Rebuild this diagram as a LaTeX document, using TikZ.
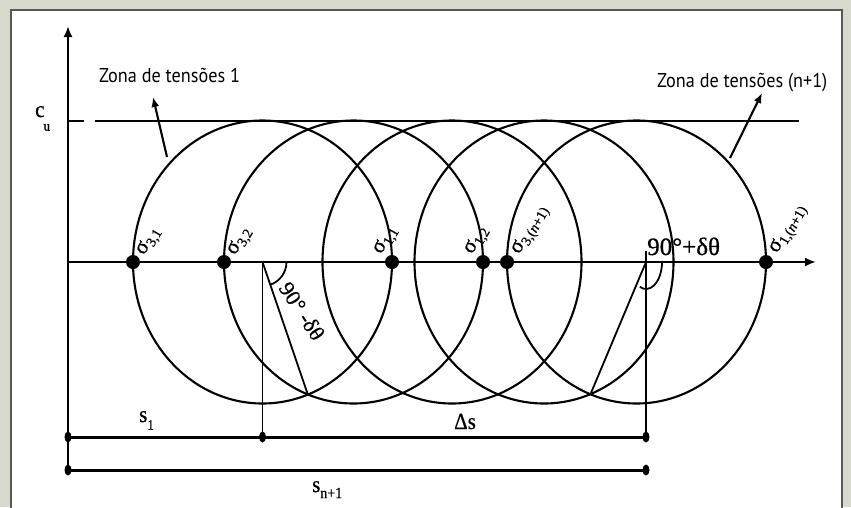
\documentclass[tikz,border=0pt]{standalone}
\usepackage{fontspec}
\setmainfont{Liberation Serif}[FakeBold=0.7]
\newfontfamily\zonafont{PT Sans}
\usetikzlibrary{arrows.meta,shapes.geometric,calc}
\definecolor{bggray}{RGB}{216,217,205}
\definecolor{framegray}{RGB}{88,88,88}
\newcommand{\sgm}[1]{{\fontsize{22}{22}\selectfont σ}\raisebox{-4pt}{\fontsize{14}{14}\selectfont #1}}
\begin{document}
\begin{tikzpicture}[x=1pt,y=-1pt,
  ln/.style={line width=2.1pt},
  thinln/.style={line width=1.8pt},
  circ/.style={line width=2.1pt},
  dimln/.style={line width=3pt},
  bigdot/.style={circle, fill=black, inner sep=0pt, minimum size=14pt},
  smalldot/.style={ellipse, fill=black, inner sep=0pt, minimum width=7pt, minimum height=11pt},
  axarrow/.style={-{Latex[length=11pt,width=9pt]}},
  zarrow/.style={-{Latex[length=10pt,width=8pt]}},
  zona/.style={font=\zonafont\fontsize{18.2}{20}\selectfont, inner sep=0pt, anchor=base west, yscale=1.1},
  serif/.style={inner sep=0pt, anchor=base west},
  siglab/.style={inner sep=0pt, anchor=base west, rotate=60},
]
\useasboundingbox (0,0) rectangle (851,507);
\fill[bggray] (0,0) rectangle (851,507);
\fill[white] (11,9.5) rectangle (842,507);
\draw[framegray, line width=2pt] (11,512) -- (11,9.5) -- (842,9.5) -- (842,512);

% coordinates
\coordinate (Ybot) at (68,470);
\coordinate (Ytop) at (68,26);
\coordinate (O) at (68,262);
\coordinate (Xend) at (816,262);
\coordinate (cuA) at (68,121);
\coordinate (cuB) at (84,121);
\coordinate (cuC) at (95,121);
\coordinate (cuD) at (799,121);
\foreach \n/\cx in {1/262.5, 2/353.5, 3/452, 4/544, 5/636.5}
  \coordinate (C\n) at (\cx,262);
\coordinate (P12) at (308,395);
\coordinate (Vr) at (646,262);
\coordinate (VrTop) at (646,251);
\coordinate (P45) at (590.3,394.6);
\coordinate (D1a) at (68,437);
\coordinate (D1b) at (262.5,437);
\coordinate (D1c) at (646,437);
\coordinate (D2a) at (68,470);
\coordinate (D2b) at (646,470);
\coordinate (za1) at (167,157);
\coordinate (za2) at (153,97);
\coordinate (zb1) at (730,158);
\coordinate (zb2) at (762,93);

% axes
\draw[ln, axarrow] (Ybot) -- (Ytop);
\draw[ln, axarrow] (O) -- (Xend);
\draw[ln] (cuA) -- (cuB);
\draw[ln] (cuC) -- (cuD);

% circles
\foreach \n in {1,...,5}
  \draw[circ] (C\n) ellipse [x radius=129.5pt, y radius=141.5pt];

% construction lines
\draw[thinln] (C1) -- (P12);
\draw[thinln] (C1) -- (D1b);
\draw[thinln] (VrTop) -- (D1c);
\draw[thinln] (Vr) -- (P45);
\draw[thinln] ([shift={(24pt,0pt)}]C1) arc[start angle=0, end angle=-71.3, radius=24pt];
\draw[thinln] ([shift={(16pt,0pt)}]Vr) arc[start angle=0, end angle=-112.8, x radius=16pt, y radius=27pt];

% dimension lines
\draw[dimln] (D1a) -- (D1c);
\draw[dimln] (D2a) -- (D2b);
\node[smalldot] (d1) at (D1a) {};
\node[smalldot] (d2) at (D1b) {};
\node[smalldot] (d3) at (D1c) {};
\node[smalldot] (d4) at (D2a) {};
\node[smalldot] (d5) at (D2b) {};

% stress points
\node[bigdot] (s31) at (133,262) {};
\node[bigdot] (s32) at (224,262) {};
\node[bigdot] (s11) at (392,262) {};
\node[bigdot] (s12) at (483,262) {};
\node[bigdot] (s3n) at (507,262) {};
\node[bigdot] (s1n) at (766,262) {};

\node[siglab] (l31) at ($(s31)+(11,-6)$) {\sgm{3,1}};
\node[siglab] (l32) at ($(s32)+(11,-6)$) {\sgm{3,2}};
\node[siglab] (l11) at ($(s11)+(-11,-7)$) {\sgm{1,1}};
\node[siglab] (l12) at ($(s12)+(-11,-7)$) {\sgm{1,2}};
\node[siglab] (l3n) at ($(s3n)+(12,-7)$) {\sgm{3,(\textit{n}+1)}};
\node[siglab] (l1n) at ($(s1n)+(11,-8)$) {\sgm{1,(\textit{n}+1)}};

% zone labels
\node[zona] (z1) at (99,82) {Zona de tensões 1};
\node[zona] (z2) at (657,87) {Zona de tensões (n+1)};
\draw[ln, zarrow] (za1) -- (za2);
\draw[ln, zarrow] (zb1) -- (zb2);

% other labels
\node[serif, yscale=1.1] (cu) at (35,117) {{\fontsize{21}{21}\selectfont c}\kern-1pt\raisebox{-12.5pt}{\fontsize{13}{13}\selectfont u}};
\node[serif, yscale=1.1] (s1) at (139,422) {{\fontsize{21}{21}\selectfont s}\raisebox{-7pt}{\fontsize{13}{13}\selectfont 1}};
\node[serif, yscale=1.1] (ds) at (454,429) {\fontsize{21}{21}\selectfont Δs};
\node[serif, yscale=1.1] (sn) at (312,492) {{\fontsize{21}{21}\selectfont s}\raisebox{-5.5pt}{\fontsize{14}{14}\selectfont n+1}};
\node[serif] (ap) at (647,255) {\fontsize{25}{25}\selectfont 90°+δθ};
\node[inner sep=0pt, rotate=-57] (am) at (302,311) {\fontsize{22}{22}\selectfont 90° -δθ};
\end{tikzpicture}
\end{document}
